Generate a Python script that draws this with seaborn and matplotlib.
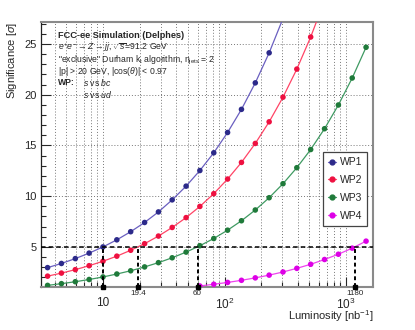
import numpy as np
import pandas as pd
import matplotlib
matplotlib.use('Agg')
import matplotlib.pyplot as plt
import matplotlib.ticker as mticker
from matplotlib.lines import Line2D
import seaborn as sns

# luminosity points [nb^-1]
lumi = [3.50, 4.55, 5.92, 7.69, 10.0, 13.0, 16.9, 22.0, 28.6, 37.1, 48.3, 62.7,
        81.6, 106.0, 137.9, 179.2, 233.0, 302.9, 393.7, 511.8, 665.4, 865.0, 1124.5, 1461.9]

# significance per working point
sig_wp1 = [2.96, 3.37, 3.85, 4.39, 5.00, 5.70, 6.50, 7.41, 8.45, 9.64, 10.99, 12.53,
           14.28, 16.28, 18.56, 21.17, 24.13, 27.52]
sig_wp2 = [2.12, 2.42, 2.76, 3.15, 3.59, 4.09, 4.67, 5.32, 6.07, 6.92, 7.89, 8.99,
           10.25, 11.69, 13.33, 15.20, 17.33, 19.76, 22.53, 25.69, 29.29]
sig_wp3 = [1.21, 1.38, 1.57, 1.79, 2.04, 2.33, 2.65, 3.03, 3.45, 3.93, 4.49, 5.12,
           5.83, 6.65, 7.58, 8.64, 9.85, 11.23, 12.81, 14.60, 16.65, 18.99, 21.65, 24.68]
sig_wp4 = [1.15, 1.32, 1.50, 1.71, 1.95, 2.22, 2.53, 2.89, 3.29, 3.76, 4.28, 4.88, 5.57]
wp4_start = 11  # first luminosity index shown for WP4

labels = ['WP1', 'WP2', 'WP3', 'WP4']
line_colors = ['#6a5fc0', '#ff4466', '#3f9a62', '#ee44ee']
marker_colors = ['#2c2a8a', '#ee1040', '#1f7a3a', '#dd00e6']

# 5 sigma crossing points
cross_lumi = [10, 19.4, 60, 1180]
cross_text = ['', '19.4', '60', '1180']

rows = []
for lab, sig, start in zip(labels, [sig_wp1, sig_wp2, sig_wp3, sig_wp4], [0, 0, 0, wp4_start]):
    for l, s in zip(lumi[start:], sig):
        rows.append({'wp': lab, 'lumi': l, 'sig': s})
df = pd.DataFrame(rows)

sns.set_style('white')
plt.rcParams['font.family'] = ['Liberation Sans', 'DejaVu Sans']
plt.rcParams['mathtext.fontset'] = 'custom'
plt.rcParams['mathtext.rm'] = 'Liberation Sans'
plt.rcParams['mathtext.it'] = 'Liberation Sans:italic'
plt.rcParams['mathtext.bf'] = 'Liberation Sans:bold'

fig = plt.figure(figsize=(4.15, 3.30), dpi=100)
ax = fig.add_axes([41/415, 43/330, 332/415, 265/330])

ymin, ymax = 1.05, 27.17
xmin, xmax = 3.09, 1667

# grid (dotted, ROOT-like)
ax.set_xscale('log')
ax.set_xlim(xmin, xmax)
ax.set_ylim(ymin, ymax)
ax.grid(True, which='both', axis='x', ls=(0, (1, 2)), color='#777777', lw=0.7)
ax.grid(True, which='major', axis='y', ls=(0, (1, 2)), color='#777777', lw=0.7)
ax.set_axisbelow(True)

pal_line = dict(zip(labels, line_colors))
pal_mark = dict(zip(labels, marker_colors))
sns.lineplot(data=df, x='lumi', y='sig', hue='wp', palette=pal_line, lw=0.9,
             legend=False, ax=ax, sort=True, zorder=3)
sns.scatterplot(data=df, x='lumi', y='sig', hue='wp', palette=pal_mark, s=16,
                edgecolor='none', legend=False, ax=ax, zorder=4)

# 5 sigma line and crossings
ax.axhline(5, color='black', ls=(0, (3, 2)), lw=1.1, zorder=5)
for xc in cross_lumi:
    ax.plot([xc, xc], [ymin, 5], color='black', ls=(0, (2, 1.5)), lw=1.4, zorder=5)
    ax.plot([xc], [ymin], marker='s', ms=2.2, color='black', zorder=6, clip_on=False)
for xc, t in zip(cross_lumi, cross_text):
    if t:
        ax.text(xc, -0.012, t, transform=ax.get_xaxis_transform(), ha='center', va='top',
                fontsize=5.8)

# ticks
ax.yaxis.set_major_locator(mticker.MultipleLocator(5))
ax.yaxis.set_minor_locator(mticker.MultipleLocator(1))
ax.set_xticks([10, 100, 1000])
ax.set_xticklabels(['10', '$10^{2}$', '$10^{3}$'])
ax.xaxis.set_minor_locator(mticker.LogLocator(base=10, subs=np.arange(2, 10)))
ax.xaxis.set_minor_formatter(mticker.NullFormatter())
ax.tick_params(axis='y', which='major', direction='in', length=7, width=0.8, labelsize=8, pad=3, left=True)
ax.tick_params(axis='y', which='minor', direction='in', length=3.5, width=0.8, left=True)
ax.tick_params(axis='x', which='major', direction='in', length=7, width=0.8, labelsize=8.5, pad=7, bottom=True)
ax.tick_params(axis='x', which='minor', direction='in', length=3.5, width=0.8, bottom=True)

for side in ['top', 'right', 'bottom']:
    ax.spines[side].set_color('#8a8a8a')
    ax.spines[side].set_linewidth(1.5)
ax.spines['left'].set_color('#222222')
ax.spines['left'].set_linewidth(0.9)

ax.set_xlabel('')
fig.text(373/415, 1 - 316/330, 'Luminosity [nb$^{-1}$]', ha='right', va='center', fontsize=8)
ax.set_ylabel(r'Significance [$\sigma$]', loc='top', fontsize=8, labelpad=4)

# info text
tx = 58 / 415
fs = 6.2
fig.text(tx, 1 - 35/330, 'FCC-ee Simulation (Delphes)', fontsize=6.6, fontweight='bold', va='center')
fig.text(tx, 1 - 47/330, r'$e^{+}e^{-}\rightarrow Z\rightarrow jj$, $\sqrt{s}$=91.2 GeV', fontsize=fs, va='center')
fig.text(tx, 1 - 60/330, r'"exclusive" Durham k$_{\mathrm{t}}$ algorithm, n$_{\mathrm{jets}}$ = 2', fontsize=fs, va='center')
fig.text(tx, 1 - 72/330, r'|p| > 20 GeV, |cos($\theta$)| < 0.97', fontsize=fs, va='center')
fig.text(tx, 1 - 83/330, 'WP:', fontsize=fs, fontweight='bold', va='center')
fig.text(83/415, 1 - 83/330, r'$s$ vs $bc$', fontsize=fs, va='center')
fig.text(83/415, 1 - 94/330, r'$s$ vs $ud$', fontsize=fs, va='center')

# legend
handles = [Line2D([0], [0], color=lc, marker='o', mfc=mc, mec=mc, ms=3.5, lw=0.9)
           for lc, mc in zip(line_colors, marker_colors)]
leg = ax.legend(handles, labels, loc='upper left', bbox_to_anchor=(0.849, 0.509),
                fontsize=7.5, frameon=True, fancybox=False, framealpha=1,
                edgecolor='#444444', handlelength=0.8, handletextpad=0.3,
                labelspacing=0.75, borderpad=0.5, borderaxespad=0)
leg.get_frame().set_linewidth(0.9)

fig.savefig('out.png', dpi=100)
